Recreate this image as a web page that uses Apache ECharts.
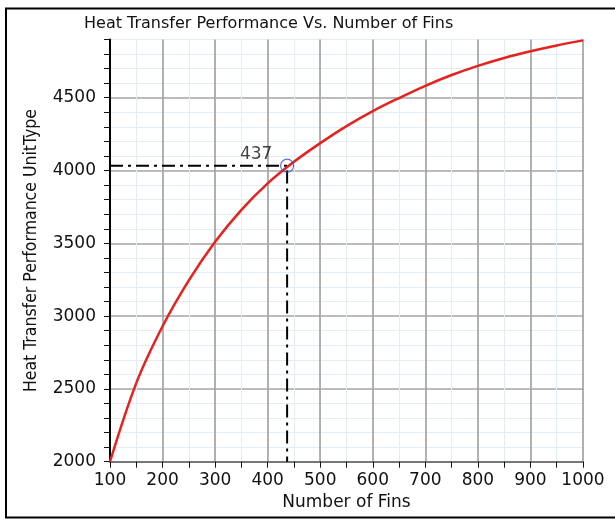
<!DOCTYPE html>
<html>
<head>
<meta charset="utf-8">
<style>
  html, body { margin: 0; padding: 0; background: #ffffff; }
  #chart { width: 615px; height: 520px; }
</style>
<script src="https://cdn.jsdelivr.net/npm/echarts@6/dist/echarts.min.js"></script>
</head>
<body>
<div id="chart"></div>
<script>
// Fin count vs. heat transfer performance
const fins = [100, 150, 200, 250, 300, 350, 400, 450, 500, 550, 600, 650, 700, 750, 800, 850, 900, 950, 1000];
const performance = [2000, 2540, 2930, 3245, 3510, 3730, 3912, 4060, 4188, 4305, 4408, 4498, 4582, 4656, 4719, 4773, 4819, 4859, 4894];

// Highlighted design point
const selectedFins = 437;
const selectedPerformance = 4033;

// Axis ranges
const xMin = 100, xMax = 1000, xMajor = 100, xMinor = 50;
const yMin = 2000, yMax = 4900, yMajor = 500, yMinor = 100;

const titleText = 'Heat Transfer Performance Vs. Number of Fins';
const xName = 'Number of Fins';
const yName = 'Heat Transfer Performance UnitType';

const FONT = '"DejaVu Sans", Verdana, sans-serif';
const NARROW = '"DejaVu Sans Condensed", "Liberation Sans Narrow", "DejaVu Sans", sans-serif';

const chart = echarts.init(document.getElementById('chart'), null, { renderer: 'canvas' });

const curve = fins.map((f, i) => [f, performance[i]]);
const guide = [[xMin, selectedPerformance], [selectedFins, selectedPerformance], [selectedFins, yMin]];

chart.setOption({
  backgroundColor: '#ffffff',
  animation: false,
  title: {
    text: titleText,
    left: 79,
    top: 11,
    textStyle: { fontFamily: FONT, fontSize: 16, fontWeight: 'normal', color: '#111' }
  },
  graphic: [{
    type: 'rect',
    shape: { x: 6, y: 8.5, width: 700, height: 509 },
    style: { fill: null, stroke: '#000', lineWidth: 2 },
    silent: true,
    z: 100
  }],
  grid: { left: 110, right: 32, top: 39.5, bottom: 58.3, containLabel: false },
  xAxis: [{
    type: 'value',
    position: 'bottom',
    min: xMin, max: xMax, interval: xMinor,
    name: xName,
    nameLocation: 'middle',
    nameGap: 32,
    nameTextStyle: { fontFamily: FONT, fontSize: 17, color: '#111', verticalAlign: 'top' },
    axisLine: { show: true, onZero: false, lineStyle: { color: '#777', width: 2 } },
    axisTick: { show: true, inside: false, length: 6, lineStyle: { color: '#111', width: 1 } },
    axisLabel: {
      show: true, margin: 10,
      fontFamily: FONT, fontSize: 17, color: '#111',
      formatter: v => (v % xMajor === 0 ? String(v) : '')
    },
    splitLine: { show: true, lineStyle: { color: '#e4edf4', width: 1 } }
  }, {
    type: 'value',
    position: 'bottom',
    min: xMin, max: xMax, interval: xMajor,
    axisLine: { show: false }, axisTick: { show: false }, axisLabel: { show: false },
    splitLine: { show: true, showMinLine: false, lineStyle: { color: '#9a9a9a', width: 1.5 } }
  }],
  yAxis: [{
    type: 'value',
    position: 'left',
    min: yMin, max: yMax, interval: yMinor,
    name: yName,
    nameLocation: 'middle',
    nameRotate: 90,
    nameGap: 70,
    nameTextStyle: { fontFamily: NARROW, fontSize: 17.5, color: '#111' },
    axisLine: { show: true, onZero: false, lineStyle: { color: '#000', width: 2 } },
    axisTick: { show: true, inside: false, length: 6, lineStyle: { color: '#111', width: 1 } },
    axisLabel: {
      show: true, margin: 14,
      fontFamily: FONT, fontSize: 17, color: '#111',
      formatter: v => (v % yMajor === 0 ? String(v) : '')
    },
    splitLine: { show: true, lineStyle: { color: '#e4edf4', width: 1 } }
  }, {
    type: 'value',
    position: 'left',
    min: yMin, max: yMax, interval: yMajor,
    axisLine: { show: false }, axisTick: { show: false }, axisLabel: { show: false },
    splitLine: { show: true, showMinLine: false, showMaxLine: false, lineStyle: { color: '#a8a8a8', width: 1.5 } }
  }],
  series: [{
    name: 'performance',
    type: 'line',
    xAxisIndex: 0, yAxisIndex: 0,
    data: curve,
    smooth: 0.35,
    showSymbol: false,
    lineStyle: { color: '#e6221f', width: 2.5 },
    z: 5
  }, {
    name: 'guide',
    type: 'line',
    xAxisIndex: 0, yAxisIndex: 0,
    data: guide,
    showSymbol: false,
    lineStyle: { color: '#000', width: 2, type: [13, 5, 3, 5] },
    z: 4
  }, {
    name: 'selected',
    type: 'scatter',
    xAxisIndex: 0, yAxisIndex: 0,
    data: [[selectedFins, selectedPerformance]],
    symbol: 'circle',
    symbolSize: 13,
    itemStyle: { color: 'rgba(0,0,0,0)', borderColor: '#3846d8', borderWidth: 1.2 },
    label: {
      show: true,
      formatter: String(selectedFins),
      position: 'inside',
      offset: [-31, -11],
      fontFamily: FONT, fontSize: 17, color: '#111'
    },
    z: 6
  }]
});
</script>
</body>
</html>
